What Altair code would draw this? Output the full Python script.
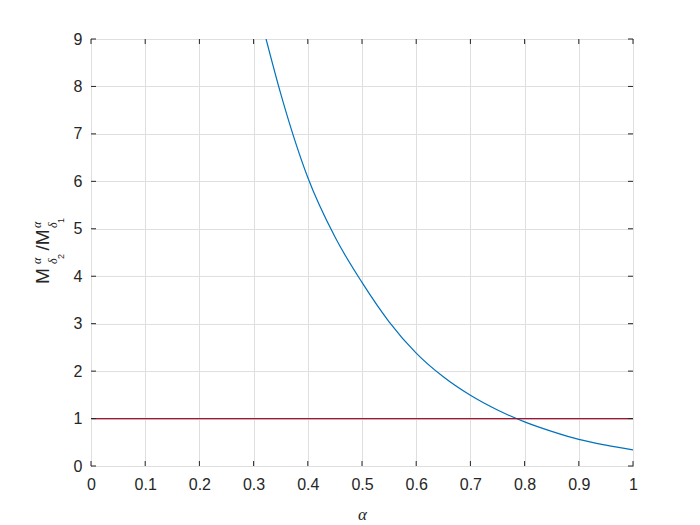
import altair as alt
import pandas as pd

# ---- data ----
alpha = [0.323, 0.35, 0.40, 0.45, 0.50, 0.55, 0.60, 0.65, 0.70,
         0.75, 0.80, 0.85, 0.90, 0.95, 1.00]
ratio = [9.0, 7.85, 6.08, 4.83, 3.87, 3.04, 2.38, 1.88, 1.49,
         1.18, 0.93, 0.73, 0.56, 0.44, 0.34]
ref_level = [1.0]
x_ticks = [0, 0.1, 0.2, 0.3, 0.4, 0.5, 0.6, 0.7, 0.8, 0.9, 1]
y_ticks = [0, 1, 2, 3, 4, 5, 6, 7, 8, 9]

W, H = 542, 427
INK = "#262626"
SANS = "Liberation Sans"
SERIF = "Liberation Serif"

curve_df = pd.DataFrame({"a": alpha, "r": ratio})
ref_df = pd.DataFrame({"a": [0.0], "r": ref_level})
xt_df = pd.DataFrame({"a": x_ticks})
yt_df = pd.DataFrame({"r": y_ticks})

xs = alt.Scale(domain=[0, 1], nice=False, zero=False)
ys = alt.Scale(domain=[0, 9], nice=False, zero=False)

x_axis = alt.Axis(
    values=x_ticks, format="~g", grid=True, gridColor="#dfdfdf",
    ticks=False, domain=False, labelFont=SANS, labelFontSize=16,
    labelColor=INK, labelPadding=10, labelFlush=False, labelOverlap=False,
    title="α", titleFont=SERIF, titleFontStyle="italic",
    titleFontWeight="normal", titleFontSize=17, titleColor=INK,
    titleX=W / 2, titleY=53, titleBaseline="alphabetic", titleAlign="center")
y_axis = alt.Axis(
    values=y_ticks, grid=True, gridColor="#dfdfdf", ticks=False,
    domain=False, labelFont=SANS, labelFontSize=16, labelColor=INK,
    labelPadding=9, labelFlush=False, labelOverlap=False, title=None)

X = alt.X("a:Q", scale=xs, axis=x_axis)
Y = alt.Y("r:Q", scale=ys, axis=y_axis)

curve = alt.Chart(curve_df).mark_line(
    color="#0072BD", strokeWidth=1.2, interpolate="monotone", clip=True
).encode(x=X, y=Y)

ref_line = alt.Chart(ref_df).mark_rule(color="#A2142F", strokeWidth=1.2).encode(
    y=Y, x=alt.value(0), x2=alt.value(W),
)

tick_b = alt.Chart(xt_df).mark_rule(color=INK).encode(
    x=X, y=alt.value(H), y2=alt.value(H - 5))
tick_t = alt.Chart(xt_df).mark_rule(color=INK).encode(
    x=X, y=alt.value(0), y2=alt.value(5))
tick_l = alt.Chart(yt_df).mark_rule(color=INK).encode(
    y=Y, x=alt.value(0), x2=alt.value(5))
tick_r = alt.Chart(yt_df).mark_rule(color=INK).encode(
    y=Y, x=alt.value(W), x2=alt.value(W - 5))


def piece(txt, x, y, size, font=SANS, style="normal"):
    return alt.Chart(pd.DataFrame({"s": [txt]})).mark_text(
        angle=270, align="left", baseline="alphabetic", font=font,
        fontSize=size, fontStyle=style, color=INK
    ).encode(text="s:N", x=alt.value(x), y=alt.value(y))


ylabel = [
    piece("M", -42.5, 245, 19),
    piece("α", -50, 225, 12, SERIF, "italic"),
    piece("δ", -34, 225, 12, SERIF, "italic"),
    piece("2", -27, 220, 9),
    piece("/M", -42.5, 211.5, 19),
    piece("α", -50, 189, 12, SERIF, "italic"),
    piece("δ", -34, 189, 12, SERIF, "italic"),
    piece("1", -27, 184, 9),
]

chart = alt.layer(
    curve, ref_line, tick_b, tick_t, tick_l, tick_r, *ylabel
).properties(
    width=W, height=H,
    autosize=alt.AutoSizeParams(type="none"),
    padding={"left": 83, "top": 31, "right": 59, "bottom": 58},
).configure_view(stroke=INK, strokeWidth=1)

chart.save("out.html", embed_options={"renderer": "svg", "actions": False})
